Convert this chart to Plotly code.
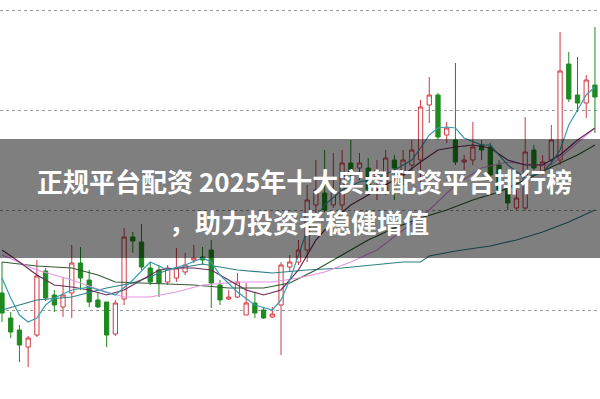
import plotly.graph_objects as go

# ---- data ----
idx = list(range(69))
opens = [10.17, 9.92, 9.80, 9.63, 9.75, 10.39, 10.15, 10.03, 10.17, 10.47,
         10.30, 10.10, 10.08, 9.76, 10.11, 10.73, 10.68, 10.42, 10.40, 10.28,
         10.32, 10.38, 10.50, 10.53, 10.60, 10.25, 10.11, 10.13, 9.95, 10.07,
         10.00, 9.93, 10.05, 10.43, 10.48, 10.60, 11.05, 11.17, 11.05, 11.05,
         11.47, 11.42, 11.42, 11.30, 11.18, 11.50, 11.35, 11.45, 11.50, 12.05,
         12.15, 11.75, 11.70, 11.48, 11.50, 11.65, 11.63, 11.45, 11.20, 11.02,
         11.02, 11.60, 11.38, 11.50, 11.50, 12.46, 12.15, 12.07, 12.25]
closes = [9.97, 9.78, 9.65, 9.72, 10.34, 10.12, 10.05, 10.15, 10.47, 10.32,
          10.08, 10.03, 9.75, 10.07, 10.73, 10.69, 10.43, 10.28, 10.27, 10.42,
          10.42, 10.45, 10.52, 10.50, 10.27, 10.10, 10.13, 10.28, 10.07, 9.97,
          9.92, 9.96, 10.45, 10.48, 10.60, 11.10, 11.20, 11.00, 11.20, 11.47,
          11.38, 11.47, 11.20, 11.40, 11.52, 11.42, 11.50, 11.60, 12.03, 12.15,
          11.73, 11.82, 11.48, 11.50, 11.63, 11.60, 11.35, 11.20, 11.07, 11.12,
          11.58, 11.42, 11.48, 11.70, 12.39, 12.11, 12.07, 12.30, 12.13]
highs = [10.48, 9.98, 9.85, 9.74, 10.50, 10.42, 10.20, 10.32, 10.65, 10.63,
         10.40, 10.18, 10.08, 10.10, 10.82, 10.78, 10.86, 10.48, 10.45, 10.45,
         10.62, 10.57, 10.65, 10.63, 10.70, 10.30, 10.20, 10.37, 10.27, 10.17,
         10.02, 10.03, 10.48, 10.55, 10.70, 11.25, 11.50, 11.60, 11.57, 11.60,
         11.70, 11.57, 11.52, 11.50, 11.60, 11.55, 11.60, 11.70, 12.10, 12.33,
         12.17, 11.88, 12.47, 11.55, 11.88, 11.70, 11.67, 11.50, 11.25, 11.20,
         11.93, 11.65, 11.55, 11.85, 12.78, 12.58, 12.53, 12.35, 12.83]
lows = [9.88, 9.72, 9.48, 9.43, 9.73, 10.09, 9.98, 9.93, 9.92, 10.20,
        10.03, 10.02, 9.63, 9.74, 10.05, 10.57, 10.40, 10.25, 10.13, 10.25,
        10.28, 10.35, 10.47, 10.45, 10.02, 10.05, 10.10, 10.12, 9.95, 9.92,
        9.91, 9.92, 9.55, 10.38, 10.45, 10.48, 10.95, 10.98, 11.02, 11.00,
        11.20, 11.30, 11.15, 11.10, 11.15, 11.10, 11.25, 11.38, 11.17, 11.87,
        11.70, 11.67, 11.45, 11.40, 11.45, 11.50, 11.32, 11.15, 11.00, 11.00,
        11.00, 11.40, 11.35, 11.45, 11.45, 12.08, 11.98, 11.92, 11.77]

ma5_x = [0, 1, 2, 3, 4, 5, 6, 8, 10, 12, 13, 15, 17, 19, 21, 23, 24, 25, 27, 29,
         31, 32, 33, 34, 35, 37, 39, 41, 43, 45, 47, 48, 49, 50, 51, 52, 53, 55,
         56, 58, 60, 62, 63, 64, 65, 66, 67, 68]
ma5_y = [10.32, 10.12, 9.95, 9.88, 9.92, 10.05, 10.12, 10.20, 10.23, 10.18,
         10.15, 10.30, 10.48, 10.40, 10.45, 10.52, 10.48, 10.35, 10.18, 10.05,
         10.00, 10.10, 10.30, 10.55, 10.80, 11.05, 11.20, 11.28, 11.32, 11.40,
         11.50, 11.62, 11.75, 11.82, 11.83, 11.82, 11.72, 11.65, 11.65, 11.45,
         11.32, 11.38, 11.47, 11.60, 11.85, 12.00, 12.15, 12.23]

ma10_x = [0, 2, 4, 6, 8, 10, 12, 14, 16, 18, 20, 22, 24, 26, 28, 30, 32, 34,
          36, 38, 40, 43, 46, 48, 50, 52, 54, 56, 58, 60, 62, 64, 66, 68]
ma10_y = [10.60, 10.48, 10.35, 10.25, 10.23, 10.20, 10.15, 10.20, 10.30, 10.40,
          10.42, 10.42, 10.40, 10.30, 10.20, 10.15, 10.20, 10.40, 10.70, 10.90,
          11.05, 11.20, 11.35, 11.48, 11.60, 11.63, 11.65, 11.62, 11.50, 11.45,
          11.45, 11.55, 11.70, 11.82]

ma20_x = [0, 4, 8, 12, 14, 17, 20, 23, 27, 31, 34, 37, 40, 43, 46, 49, 52, 55,
          58, 61, 63, 65, 68]
ma20_y = [10.55, 10.40, 10.30, 10.18, 10.13, 10.13, 10.18, 10.25, 10.28, 10.28,
          10.32, 10.38, 10.48, 10.60, 10.80, 11.00, 11.25, 11.42, 11.48, 11.45,
          11.45, 11.60, 11.82]

ma30_x = [0, 4, 8, 11, 13, 17, 22, 26, 30, 33, 36, 39, 42, 45, 48, 51, 54, 57,
          60, 63, 66, 68]
ma30_y = [10.48, 10.44, 10.42, 10.35, 10.28, 10.27, 10.25, 10.22, 10.22, 10.27,
          10.40, 10.55, 10.70, 10.82, 10.92, 11.00, 11.10, 11.18, 11.30, 11.43,
          11.55, 11.65]

ma60_x = [0, 4, 8, 12, 15, 19, 23, 27, 31, 35, 39, 43, 46, 48, 49, 52, 56, 59,
          62, 65, 68]
ma60_y = [10.00, 10.10, 10.13, 10.22, 10.27, 10.40, 10.46, 10.40, 10.37, 10.40,
          10.42, 10.45, 10.48, 10.48, 10.54, 10.59, 10.64, 10.70, 10.78, 10.88,
          11.00]

grid_levels = [10, 11, 12, 13]
title_line1 = "正规平台配资 2025年十大实盘配资平台排行榜"
title_line2 = "，助力投资者稳健增值"

# ---- figure ----
fig = go.Figure()

ma_specs = [
    (ma60_x, ma60_y, "#2f7f86"),
    (ma30_x, ma30_y, "#2f5a2f"),
    (ma20_x, ma20_y, "#e394e3"),
    (ma10_x, ma10_y, "#6a2c58"),
    (ma5_x, ma5_y, "#3a9db0"),
]
for xs, ys, col in ma_specs:
    fig.add_trace(go.Scatter(x=xs, y=ys, mode="lines",
                             line=dict(color=col, width=1.2),
                             hoverinfo="skip", showlegend=False))

fig.add_trace(go.Candlestick(
    x=idx, open=opens, high=highs, low=lows, close=closes,
    increasing=dict(line=dict(color="#d23a44", width=1), fillcolor="white"),
    decreasing=dict(line=dict(color="#1f8a1f", width=1), fillcolor="#1f8a1f"),
    whiskerwidth=0, showlegend=False, hoverinfo="skip"))

fig.add_shape(type="rect", xref="paper", yref="paper",
              x0=0, x1=1, y0=1 - 258 / 399, y1=1 - 139 / 399,
              fillcolor="rgba(0,0,0,0.5)", line=dict(width=0), layer="above")

fig.add_annotation(text=title_line1, xref="paper", yref="paper",
                   x=0.508, y=1 - 180 / 399, showarrow=False,
                   xanchor="center", yanchor="middle",
                   font=dict(family="Noto Sans CJK SC", size=26, color="white",
                             weight="bold"))
fig.add_annotation(text=title_line2, xref="paper", yref="paper",
                   x=0.498, y=1 - 221 / 399, showarrow=False,
                   xanchor="center", yanchor="middle",
                   font=dict(family="Noto Sans CJK SC", size=26, color="white",
                             weight="bold"))

fig.update_layout(
    width=600, height=399,
    margin=dict(l=0, r=0, t=0, b=0),
    paper_bgcolor="white", plot_bgcolor="white",
    showlegend=False, hovermode=False,
    xaxis=dict(range=[-0.23, 68.58], showgrid=False, zeroline=False,
               showticklabels=False, rangeslider=dict(visible=False),
               fixedrange=True),
    yaxis=dict(range=[9.11, 13.10], tickvals=grid_levels, showgrid=True,
               gridcolor="#9a9a9a", griddash="dot", gridwidth=1,
               zeroline=False, showticklabels=False, fixedrange=True),
)

fig.write_html("out.html", config={"displayModeBar": False})
